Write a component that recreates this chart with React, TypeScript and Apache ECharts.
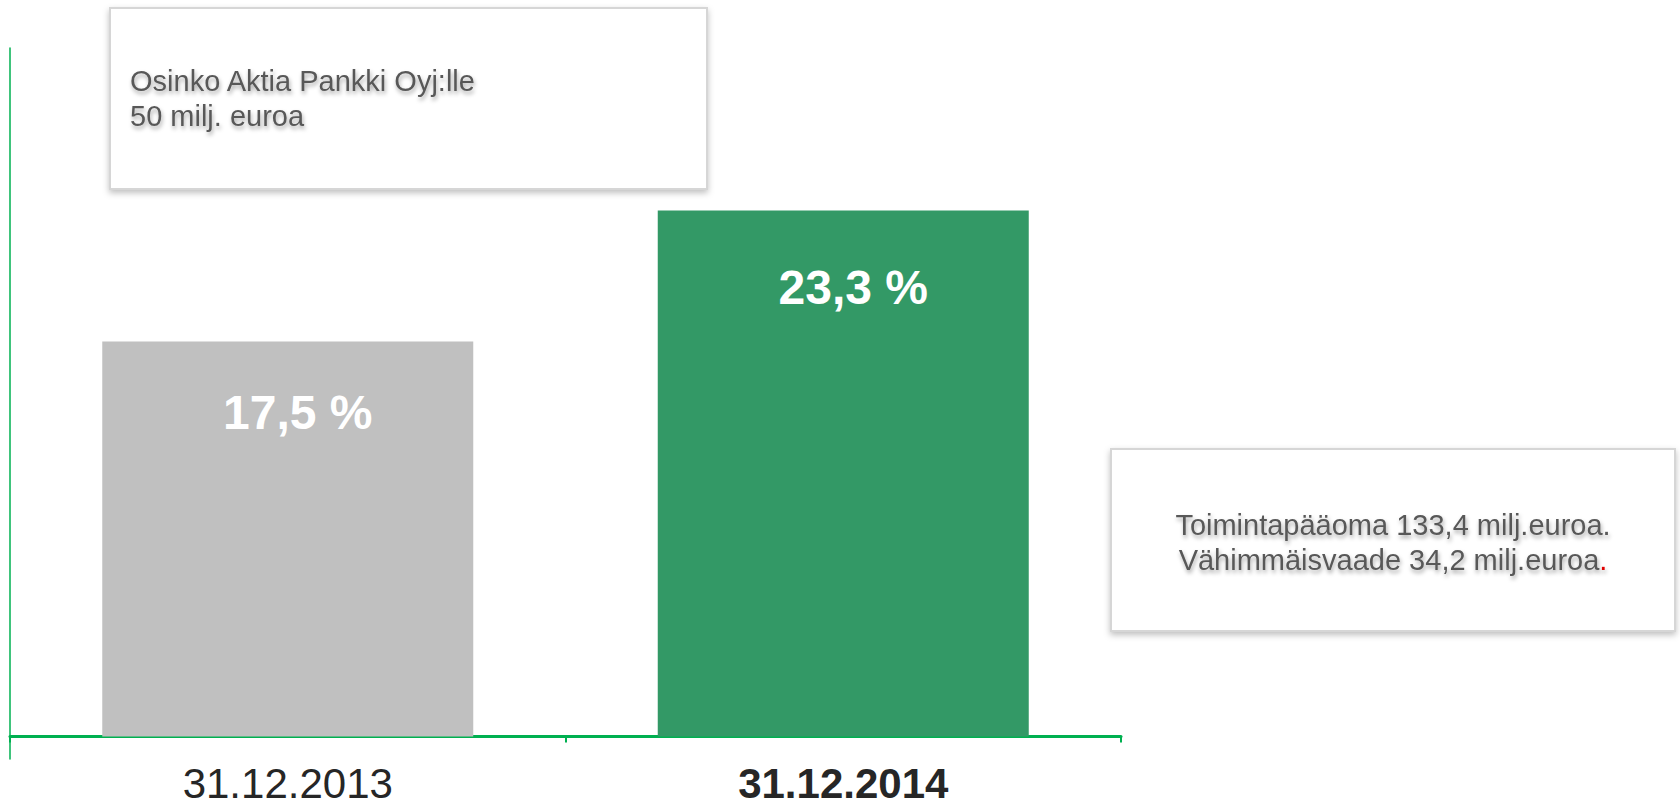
import React, { useEffect, useRef } from "react";
import * as echarts from "echarts";

const categories = ["31.12.2013", "31.12.2014"];
const values = [17.5, 23.3];
const barLabels = ["17,5 %", "23,3 %"];
const barColors = ["#c0c0c0", "#339966"];
const noteTop = ["Osinko Aktia Pankki Oyj:lle", "50 milj. euroa"];
const noteRight = ["Toimintapääoma 133,4 milj.euroa.", "Vähimmäisvaade 34,2 milj.euroa"];

const FONT = "'Liberation Sans', Arial, sans-serif";

export default function App() {
  const ref = useRef<HTMLDivElement>(null);
  useEffect(() => {
    if (!ref.current) return;
    const chart = echarts.init(ref.current, null, { renderer: "svg" });
    const boxStyle = {
      fill: "#ffffff",
      stroke: "#d6d6d6",
      lineWidth: 2,
      shadowBlur: 6,
      shadowColor: "rgba(0,0,0,0.25)",
      shadowOffsetY: 3,
    };
    const textShadow = {
      textShadowColor: "rgba(0,0,0,0.35)",
      textShadowBlur: 4,
      textShadowOffsetX: 1,
      textShadowOffsetY: 3,
    };
    chart.setOption({
      animation: false,
      backgroundColor: "#ffffff",
      grid: {
        left: 10,
        right: 559,
        top: 48,
        bottom: 46,
        containLabel: false,
        outerBoundsMode: "none",
      },
      xAxis: {
        type: "category",
        data: categories.map((c, i) => ({
          value: c,
          textStyle: { fontWeight: i === 1 ? "bold" : "normal" },
        })),
        boundaryGap: true,
        axisLine: { onZero: true, lineStyle: { color: "#00b050", width: 3 } },
        axisTick: { show: true, length: 6, lineStyle: { color: "#00b050", width: 2 } },
        axisLabel: {
          fontSize: 42,
          lineHeight: 38,
          color: "#262626",
          margin: 5,
          fontFamily: FONT,
        },
      },
      yAxis: {
        type: "value",
        min: -1,
        max: 30.5,
        axisLine: { show: true, lineStyle: { color: "#00b050", width: 1.5 } },
        axisTick: { show: false },
        axisLabel: { show: false },
        splitLine: { show: false },
      },
      series: [
        {
          type: "bar",
          barWidth: 371,
          data: values.map((v, i) => ({
            value: v,
            itemStyle: { color: barColors[i] },
            label: {
              show: true,
              position: "insideTop",
              distance: i === 0 ? 47 : 53,
              offset: [10, 0],
              formatter: barLabels[i],
              color: "#ffffff",
              fontSize: 48,
              fontWeight: "bold",
              fontFamily: FONT,
            },
          })),
        },
      ],
      graphic: [
        {
          type: "rect",
          shape: { x: 110, y: 8, width: 597, height: 181 },
          style: boxStyle,
        },
        {
          type: "text",
          x: 130,
          y: 98,
          style: {
            text: noteTop.join("\n"),
            fontSize: 29,
            lineHeight: 35,
            fontFamily: FONT,
            fill: "#595959",
            textAlign: "left",
            textVerticalAlign: "middle",
            ...textShadow,
          },
        },
        {
          type: "rect",
          shape: { x: 1111, y: 449, width: 564, height: 182 },
          style: boxStyle,
        },
        {
          type: "text",
          x: 1393,
          y: 542,
          style: {
            text: "{a|" + noteRight[0] + "}\n{a|" + noteRight[1] + "}{r|.}",
            fontSize: 29,
            lineHeight: 35,
            fontFamily: FONT,
            fill: "#595959",
            textAlign: "center",
            textVerticalAlign: "middle",
            rich: {
              a: { fontSize: 29, lineHeight: 35, fontFamily: FONT, fill: "#595959", color: "#595959", ...textShadow },
              r: { fontSize: 29, lineHeight: 35, fontFamily: FONT, fill: "#e00000", color: "#e00000", ...textShadow },
            },
          },
        },
      ],
    });
    return () => chart.dispose();
  }, []);
  return (
    <div
      ref={ref}
      style={{ position: "fixed", left: 0, top: 0, width: 1680, height: 805 }}
    />
  );
}
